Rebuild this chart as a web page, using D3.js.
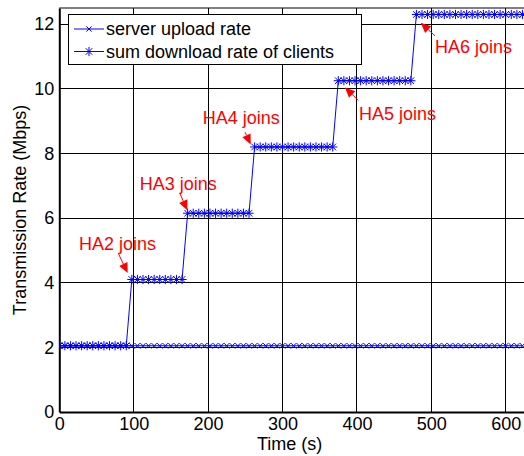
<!DOCTYPE html>
<html>
<head>
<meta charset="utf-8">
<script src="https://cdn.jsdelivr.net/npm/d3@7"></script>
<style>
  html, body { margin: 0; padding: 0; background: #fff; }
  svg { display: block; }
  text { font-family: "Liberation Sans", Arial, Helvetica, sans-serif; }
</style>
</head>
<body>
<svg id="chart" width="524" height="456"></svg>
<script>
// Sample times (s)
const time = [
  0, 7.5, 15, 22.5, 30, 37.5, 45, 52.5, 60, 67.5, 75, 82.5, 90,
  97.5, 105, 112.5, 120, 127.5, 135, 142.5, 150, 157.5, 165,
  172.5, 180, 187.5, 195, 202.5, 210, 217.5, 225, 232.5, 240, 247.5, 255,
  262.5, 270, 277.5, 285, 292.5, 300, 307.5, 315, 322.5, 330, 337.5, 345, 352.5, 360, 367.5,
  375, 382.5, 390, 397.5, 405, 412.5, 420, 427.5, 435, 442.5, 450, 457.5, 465, 472.5,
  480, 487.5, 495, 502.5, 510, 517.5, 525, 532.5, 540, 547.5, 555, 562.5, 570, 577.5, 585, 592.5, 600, 607.5, 615, 622.5
];

// Server upload rate (Mbps)
const uploadRate = [
  2.05, 2.05, 2.05, 2.05, 2.05, 2.05, 2.05, 2.05, 2.05, 2.05, 2.05, 2.05, 2.05,
  2.05, 2.05, 2.05, 2.05, 2.05, 2.05, 2.05, 2.05, 2.05, 2.05,
  2.05, 2.05, 2.05, 2.05, 2.05, 2.05, 2.05, 2.05, 2.05, 2.05, 2.05, 2.05,
  2.05, 2.05, 2.05, 2.05, 2.05, 2.05, 2.05, 2.05, 2.05, 2.05, 2.05, 2.05, 2.05, 2.05, 2.05,
  2.05, 2.05, 2.05, 2.05, 2.05, 2.05, 2.05, 2.05, 2.05, 2.05, 2.05, 2.05, 2.05, 2.05,
  2.05, 2.05, 2.05, 2.05, 2.05, 2.05, 2.05, 2.05, 2.05, 2.05, 2.05, 2.05, 2.05, 2.05, 2.05, 2.05, 2.05, 2.05, 2.05, 2.05
];

// Sum of client download rates (Mbps)
const downloadRate = [
  2.05, 2.05, 2.05, 2.05, 2.05, 2.05, 2.05, 2.05, 2.05, 2.05, 2.05, 2.05, 2.05,
  4.1, 4.1, 4.1, 4.1, 4.1, 4.1, 4.1, 4.1, 4.1, 4.1,
  6.15, 6.15, 6.15, 6.15, 6.15, 6.15, 6.15, 6.15, 6.15, 6.15, 6.15, 6.15,
  8.2, 8.2, 8.2, 8.2, 8.2, 8.2, 8.2, 8.2, 8.2, 8.2, 8.2, 8.2, 8.2, 8.2, 8.2,
  10.25, 10.25, 10.25, 10.25, 10.25, 10.25, 10.25, 10.25, 10.25, 10.25, 10.25, 10.25, 10.25, 10.25,
  12.3, 12.3, 12.3, 12.3, 12.3, 12.3, 12.3, 12.3, 12.3, 12.3, 12.3, 12.3, 12.3, 12.3, 12.3, 12.3, 12.3, 12.3, 12.3, 12.3
];

const xTicks = [0, 100, 200, 300, 400, 500, 600];
const yTicks = [0, 2, 4, 6, 8, 10, 12];
const seriesNames = ["server upload rate", "sum download rate of clients"];

// Event labels: text anchor and arrow tail/tip in data units
const eventLabels = ["HA2 joins", "HA3 joins", "HA4 joins", "HA5 joins", "HA6 joins"];
const eventText = [[26.5, 5.0], [108.1, 6.87], [192.7, 8.9], [402.8, 9.02], [505, 11.11]];
const eventTail = [[79.3, 4.91], [162.2, 6.76], [249.6, 8.66], [401.9, 9.64], [505, 11.64]];
const eventTip  = [[91.9, 4.30], [172, 6.24], [257.3, 8.28], [384, 10.04], [485.8, 12.04]];

const svg = d3.select("#chart");
const plotLeft = 59.3, plotRight = 524.3, plotTop = 8, plotBottom = 412;

const x = d3.scaleLinear().domain([0, 625]).range([plotLeft, plotRight]);
const y = d3.scaleLinear().domain([0, 12.5]).range([plotBottom, plotTop]);

const blue = "#0000ff", red = "#ff0000";

svg.append("defs").append("clipPath").attr("id", "plot")
  .append("rect").attr("x", plotLeft).attr("y", plotTop)
  .attr("width", plotRight - plotLeft).attr("height", plotBottom - plotTop);

// Grid
const grid = svg.append("g").attr("stroke", "#000").attr("stroke-width", 1).attr("shape-rendering", "crispEdges");
grid.selectAll(".gx").data(xTicks.filter(d => d > 0)).join("line")
  .attr("x1", d => x(d)).attr("x2", d => x(d)).attr("y1", plotTop).attr("y2", plotBottom);
grid.selectAll(".gy").data(yTicks.filter(d => d > 0)).join("line")
  .attr("x1", plotLeft).attr("x2", plotRight).attr("y1", d => y(d)).attr("y2", d => y(d));

// Axes frame
const xAxis = d3.axisBottom(x).tickValues(xTicks).tickSize(0).tickPadding(4);
const yAxis = d3.axisLeft(y).tickValues(yTicks).tickSize(0).tickPadding(5);

const gx = svg.append("g").attr("transform", `translate(0,${plotBottom})`).call(xAxis);
gx.select(".domain").attr("stroke", "#000").attr("stroke-width", 2);
gx.selectAll("text").attr("font-size", 18).attr("fill", "#000")
  .attr("font-family", '"Liberation Sans", Arial, sans-serif').attr("dy", "0.78em");

const gy = svg.append("g").attr("transform", `translate(${plotLeft},0)`).call(yAxis);
gy.select(".domain").attr("stroke", "#000").attr("stroke-width", 2);
gy.selectAll("text").attr("font-size", 18).attr("fill", "#000")
  .attr("font-family", '"Liberation Sans", Arial, sans-serif');

svg.append("line").attr("x1", plotLeft).attr("x2", plotRight).attr("y1", plotTop).attr("y2", plotTop)
  .attr("stroke", "#000").attr("stroke-width", 1);

// Series
const plot = svg.append("g").attr("clip-path", "url(#plot)");
const line = d3.line().x(d => x(d[0])).y(d => y(d[1]));
const upPts = time.map((t, i) => [t, uploadRate[i]]);
const downPts = time.map((t, i) => [t, downloadRate[i]]);

function crossPath(cx, cy, r) {
  return `M${cx - r},${cy - r}L${cx + r},${cy + r}M${cx - r},${cy + r}L${cx + r},${cy - r}`;
}
function starPath(cx, cy, r) {
  const d = r * 0.72;
  return `M${cx - r},${cy}L${cx + r},${cy}M${cx},${cy - r}L${cx},${cy + r}` +
         `M${cx - d},${cy - d}L${cx + d},${cy + d}M${cx - d},${cy + d}L${cx + d},${cy - d}`;
}

plot.append("path").datum(downPts).attr("d", line)
  .attr("fill", "none").attr("stroke", blue).attr("stroke-width", 1);
plot.append("path").datum(upPts).attr("d", line)
  .attr("fill", "none").attr("stroke", blue).attr("stroke-width", 1);

plot.append("g").selectAll("path").data(upPts).join("path")
  .attr("d", d => crossPath(x(d[0]), y(d[1]), 2.6))
  .attr("fill", "none").attr("stroke", blue).attr("stroke-width", 1);
plot.append("g").selectAll("path").data(downPts).join("path")
  .attr("d", d => starPath(x(d[0]), y(d[1]), 4.6))
  .attr("fill", "none").attr("stroke", blue).attr("stroke-width", 1);

// Event annotations
const ann = svg.append("g");
eventLabels.forEach((label, i) => {
  ann.append("text").attr("x", x(eventText[i][0])).attr("y", y(eventText[i][1]))
    .attr("font-size", 18).attr("fill", red).text(label);
  const x0 = x(eventTail[i][0]), y0 = y(eventTail[i][1]);
  const x1 = x(eventTip[i][0]), y1 = y(eventTip[i][1]);
  const ang = Math.atan2(y1 - y0, x1 - x0);
  const hl = 10, hw = 4.5;
  const bx = x1 - hl * Math.cos(ang), by = y1 - hl * Math.sin(ang);
  ann.append("line").attr("x1", x0).attr("y1", y0).attr("x2", bx).attr("y2", by)
    .attr("stroke", red).attr("stroke-width", 1);
  const px = -Math.sin(ang) * hw, py = Math.cos(ang) * hw;
  ann.append("path")
    .attr("d", `M${x1},${y1}L${bx + px},${by + py}L${bx - px},${by - py}Z`)
    .attr("fill", red);
});

// Legend
const lg = svg.append("g");
lg.append("rect").attr("x", 68.5).attr("y", 14.5).attr("width", 293).attr("height", 50)
  .attr("fill", "#fff").attr("stroke", "#000").attr("stroke-width", 1);
const legendRows = [29, 51.5];
seriesNames.forEach((name, i) => {
  const ly = legendRows[i];
  lg.append("line").attr("x1", 74).attr("x2", 104).attr("y1", ly).attr("y2", ly)
    .attr("stroke", blue).attr("stroke-width", 1);
  lg.append("path").attr("d", i === 0 ? crossPath(89, ly, 2.6) : starPath(89, ly, 4.6))
    .attr("fill", "none").attr("stroke", blue).attr("stroke-width", 1);
  lg.append("text").attr("x", 106).attr("y", ly + 6).attr("font-size", 18)
    .attr("fill", "#000").text(name);
});

// Axis titles
svg.append("text").attr("x", (plotLeft + 524) / 2 - 2).attr("y", 450)
  .attr("text-anchor", "middle").attr("font-size", 18).attr("fill", "#000").text("Time (s)");
svg.append("text").attr("transform", `translate(26,${(plotTop + plotBottom) / 2}) rotate(-90)`)
  .attr("text-anchor", "middle").attr("font-size", 18).attr("fill", "#000")
  .text("Transmission Rate (Mbps)");
</script>
</body>
</html>
